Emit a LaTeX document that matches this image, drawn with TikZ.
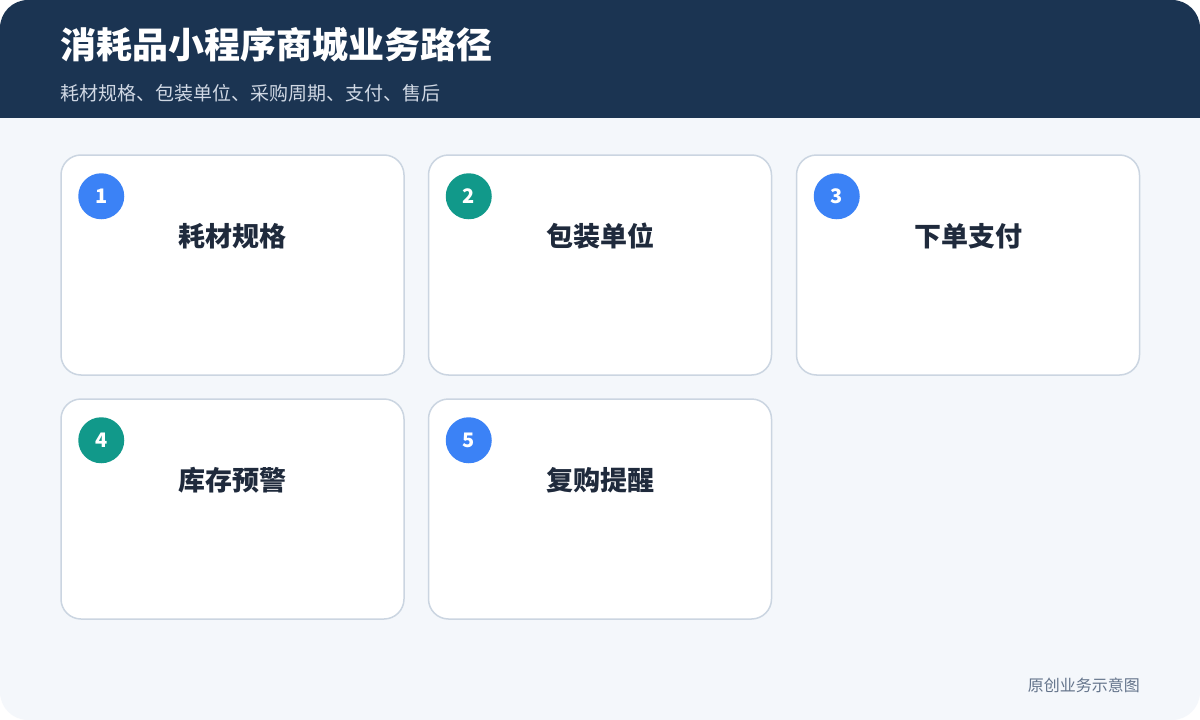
\documentclass[tikz,border=0pt]{standalone}
\usepackage{fontspec}
\newfontfamily\cjk{Noto Sans CJK SC}
\usepackage{tikz}
\usetikzlibrary{calc,positioning}

\definecolor{headnavy}{HTML}{1B3452}
\definecolor{pagebg}{HTML}{F4F7FB}
\definecolor{cardline}{HTML}{CBD5E1}
\definecolor{stepblue}{HTML}{3B82F6}
\definecolor{stepteal}{HTML}{11998A}
\definecolor{titleink}{HTML}{1F2A3C}
\definecolor{subink}{HTML}{D0D8E4}
\definecolor{footink}{HTML}{64748B}

\tikzset{
  card/.style={draw=cardline, line width=1.5pt, fill=white, rounded corners=20pt,
    minimum width=343pt, minimum height=220pt, inner sep=0pt},
  badge/.style={circle, minimum size=46pt, inner sep=0pt, text=white,
    font=\cjk\bfseries\fontsize{20}{22}\selectfont},
  cardtitle/.style={text=titleink, inner sep=0pt, font=\cjk\bfseries\fontsize{27}{30}\selectfont}
}

\begin{document}
\begin{tikzpicture}[x=1pt,y=-1pt]

	\useasboundingbox (0,0) rectangle (1200,720);
	\fill[white] (0,0) rectangle (1200,720);
	\fill[pagebg, rounded corners=28pt] (0,0) rectangle (1200,720); %page
	\begin{scope}
		\clip[rounded corners=28pt] (0,0) rectangle (1200,720);
		\fill[headnavy] (0,0) rectangle (1200,118); %header band
	\end{scope}

	\node[anchor=west, text=white, inner sep=0pt, font=\cjk\bfseries\fontsize{36}{40}\selectfont] (head) at (60,45) {消耗品小程序商城业务路径};
	\node[anchor=west, text=subink, inner sep=0pt, font=\cjk\fontsize{19}{22}\selectfont] (sub) at (60,93) {耗材规格、包装单位、采购周期、支付、售后};

	% first row
	\node[card] (c1) at (232.5,265) {};
	\node[card] (c2) at (600,265) {};
	\node[card] (c3) at (968,265) {};
	% second row
	\node[card] (c4) at (232.5,509) {};
	\node[card] (c5) at (600,509) {};

	\node[badge, fill=stepblue] (n1) at ($(c1.north west)+(41,42)$) {1};
	\node[badge, fill=stepteal] (n2) at ($(c2.north west)+(41,42)$) {2};
	\node[badge, fill=stepblue] (n3) at ($(c3.north west)+(41,42)$) {3};
	\node[badge, fill=stepteal] (n4) at ($(c4.north west)+(41,42)$) {4};
	\node[badge, fill=stepblue] (n5) at ($(c5.north west)+(41,42)$) {5};

	\node[cardtitle] (t1) at ($(c1.north)+(0,82)$) {耗材规格};
	\node[cardtitle] (t2) at ($(c2.north)+(0,82)$) {包装单位};
	\node[cardtitle] (t3) at ($(c3.north)+(0,82)$) {下单支付};
	\node[cardtitle] (t4) at ($(c4.north)+(0,82)$) {库存预警};
	\node[cardtitle] (t5) at ($(c5.north)+(0,82)$) {复购提醒};

	\node[anchor=east, text=footink, inner sep=0pt, font=\cjk\fontsize{16}{18}\selectfont] (foot) at (1140,685) {原创业务示意图};

\end{tikzpicture}
\end{document}
